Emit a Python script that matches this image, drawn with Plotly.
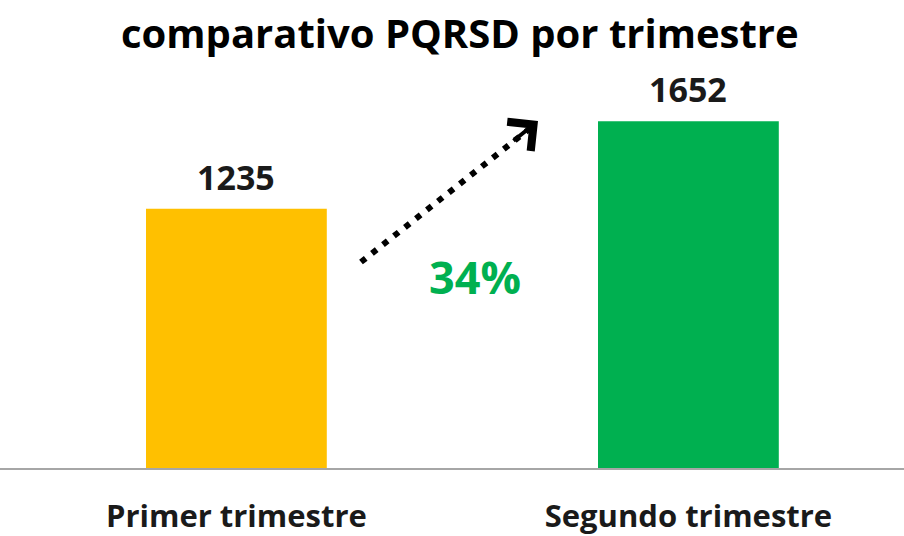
import plotly.graph_objects as go

# Quarterly PQRSD counts
categories = ["Primer trimestre", "Segundo trimestre"]
values = [1235, 1652]
bar_colors = ["#FFC000", "#00B050"]
change_label = "34%"

W, H = 904, 536
plot_h = 468  # plot area height (baseline sits at its bottom)

fig = go.Figure()
fig.add_trace(go.Bar(
    x=categories,
    y=values,
    marker=dict(color=bar_colors, line=dict(width=0)),
    width=0.40,
    cliponaxis=False,
))

# value labels above each bar
for cat, val in zip(categories, values):
    fig.add_annotation(
        x=cat, y=val, xref="x", yref="y",
        text=str(val), showarrow=False,
        xanchor="center", yanchor="middle", yshift=32,
        font=dict(family="Open Sans", size=34, color="#1a1a1a", weight="bold"),
    )

def px(x):
    return x / W

def py(y):
    return (plot_h - y) / plot_h

# dotted trend arrow between the bars
tail = (361, 262)
tip = (538, 121)
fig.add_shape(
    type="line", xref="paper", yref="paper",
    x0=px(tail[0]), y0=py(tail[1]), x1=px(tip[0] - 10), y1=py(tip[1] + 9),
    line=dict(color="black", width=6, dash="6px,8px"),
)
fig.add_annotation(
    xref="paper", yref="paper", x=px(tip[0]), y=py(tip[1]),
    ax=-26, ay=21, text="", showarrow=True,
    arrowhead=4, arrowsize=1.8, arrowwidth=4, arrowcolor="black",
)

fig.add_annotation(
    xref="paper", yref="paper", x=px(475), y=py(276),
    text=change_label, showarrow=False,
    font=dict(family="Open Sans", size=45, color="#00B050", weight="bold"),
    xanchor="center", yanchor="middle",
)

fig.add_annotation(
    xref="paper", yref="paper", x=px(460), y=py(33),
    text="comparativo PQRSD por trimestre", showarrow=False,
    font=dict(family="Open Sans", size=40, color="black", weight="bold"),
    xanchor="center", yanchor="middle",
)

fig.update_layout(
    width=W, height=H,
    margin=dict(l=0, r=0, t=0, b=H - plot_h),
    paper_bgcolor="white", plot_bgcolor="white",
    showlegend=False,
)
fig.update_xaxes(
    range=[-0.523, 1.477],
    showline=True, linecolor="#a6a6a6", linewidth=2,
    ticks="", showgrid=False,
    tickfont=dict(family="Open Sans", size=31, color="#1a1a1a", weight="bold"),
    ticklabelstandoff=20,
)
fig.update_yaxes(range=[0, 2230], visible=False, showgrid=False, zeroline=False)

fig.write_html("out.html")
